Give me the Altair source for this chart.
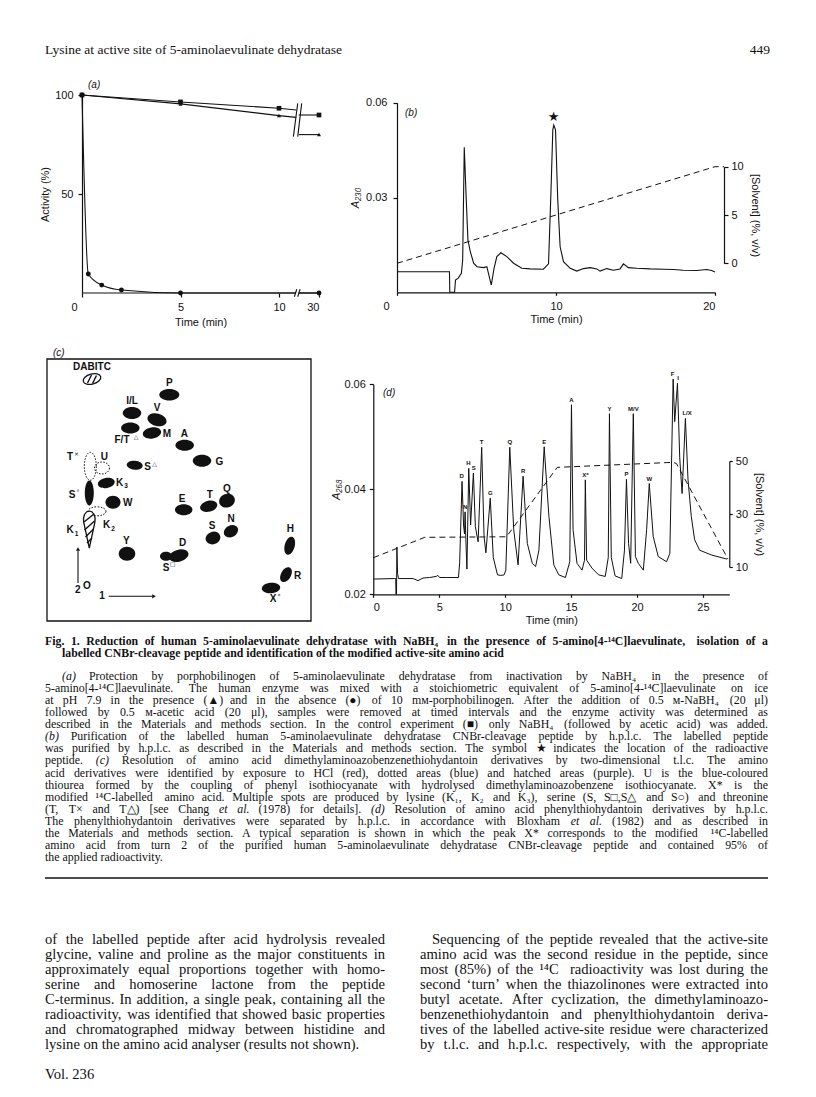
import altair as alt
import pandas as pd

SANS = "Liberation Sans"
SERIF = "Liberation Serif"
INK = "#111111"

# ---------------------------------------------------------------- panel (a)
A_T30 = 12.03            # axis position of the 30-min tick (after the axis break)
A_BREAK = (10.87, 11.0)  # axis positions either side of the break
ctrl_t = [0, 5, 10]
ctrl_act = [100, 96.5, 93.3]
ctrl_at_break = 92.4
ctrl_30 = 89.9
prot_t = [0, 5, 10]
prot_act = [100, 95.5, 89.6]
prot_at_break = 88.7
prot_30 = 80.0
inact_t = [0, 0.32, 1, 2, 5]
inact_act = [100, 9.6, 4.0, 1.5, 0]
inact_at_break = 0
inact_30 = 0

# ---------------------------------------------------------------- panel (b)
b_t = [0, 3.30, 3.32, 3.62, 3.68, 3.85, 4.05, 4.13, 4.23, 4.34, 4.46, 4.61, 4.82, 5.03,
       5.45, 5.65, 5.93, 6.10, 6.28, 6.53, 6.91, 7.33, 7.85, 8.38, 9.21, 9.53, 9.68, 9.80,
       9.86, 9.97, 10.11, 10.26, 10.47, 10.89, 11.31, 11.73, 12.15, 12.57, 12.77, 13.19,
       13.61, 14.03, 14.24, 14.55, 15.08, 15.92, 16.75, 17.38, 18.01, 18.85, 19.48, 19.79, 20.0]
b_A = [0.0065, 0.0065, 0.0, 0.0, 0.0039, 0.0045, 0.0060, 0.0102, 0.0459, 0.0313, 0.0166,
       0.0129, 0.0092, 0.0081, 0.0078, 0.0081, 0.0023, 0.0075, 0.0113, 0.0125, 0.0113,
       0.0092, 0.0076, 0.0074, 0.0073, 0.0090, 0.0313, 0.0514, 0.0529, 0.0514, 0.0292,
       0.0144, 0.0097, 0.0076, 0.0067, 0.0075, 0.0078, 0.0074, 0.0067, 0.0075, 0.0070,
       0.0074, 0.0090, 0.0078, 0.0076, 0.0074, 0.0073, 0.0072, 0.0070, 0.0069, 0.0072,
       0.0069, 0.0064]
b_solv_t = [0, 20, 20.57]
b_solv = [0, 10, 10]
b_star_t = [9.84]
b_star_A = [0.0554]

# ---------------------------------------------------------------- panel (c)
spot_name = ["DABITC", "P", "I/L", "V", "F/T", "M", "A", "G", "S△", "T×", "U", "K3", "S°",
             "W", "K2", "K1", "E", "T", "Q", "N", "S", "Y", "D", "S□", "H", "R", "X*"]
spot_x = [45, 122.3, 85, 110, 83.3, 105, 137.7, 155, 87.7, 43.3, 55, 59.3, 42.3,
          66, 50, 42.3, 136.7, 161.7, 180, 184, 166, 80, 131.7, 119, 242.7, 239, 224]
spot_y = [20, 35.7, 54, 60.7, 69, 74, 86.3, 101.7, 106.3, 107.3, 109, 124, 134,
          143.3, 152.3, 170.7, 150.7, 147.3, 141.7, 172.3, 179, 194.7, 196.7, 197.3, 186.7, 215.7, 229]
spot_w = [18, 20, 18.5, 19.5, 18.5, 18.5, 18.5, 18.5, 16, 12, 15, 17, 9,
          15, 18, 12, 17.5, 17.5, 16, 15, 15, 16.5, 20, 12, 10, 10, 18.5]
spot_h = [10, 11.5, 12, 12.5, 11, 11, 11, 12, 9, 28, 12, 10, 25,
          13, 9, 37, 11, 11, 13.5, 11.5, 12.5, 14, 12, 9, 18.5, 16, 10.5]
spot_ang = [345, 0, 0, 15, 0, 350, 0, 0, 5, 0, 0, 350, 0,
            0, 0, 0, 0, 345, 340, 330, 340, 0, 345, 0, 15, 30, 355]
spot_kind = ["hatched", "solid", "solid", "solid", "solid", "solid", "solid", "solid", "solid",
             "dotted", "dotted", "solid", "solid", "solid", "dotted", "tear", "solid", "solid",
             "solid", "solid", "solid", "solid", "solid", "solid", "solid", "solid", "solid"]

c_lab = ["DABITC", "P", "I/L", "V", "F/T", "M", "A", "G", "S", "T", "U", "K", "S", "W", "K", "K",
         "E", "T", "Q", "N", "S", "Y", "D", "S", "H", "R", "X", "2", "O", "1"]
c_lab_x = [45, 122.3, 85, 110, 75, 120, 137.3, 172.3, 100.5, 23, 57.3, 72.5, 25, 80.7, 59.5, 23,
           135, 162.7, 180, 184, 165, 79.3, 135.7, 119, 243.3, 250.7, 226, 30.7, 40, 55]
c_lab_y = [8, 24, 42.3, 49, 81.3, 75, 75, 102.7, 108, 98.3, 98.3, 123.5, 136, 144, 166, 171.3,
           139.7, 135.7, 129.7, 160, 167.3, 181.7, 184, 208.5, 170, 217.3, 240, 230.7, 226.7, 237.3]
c_sup = ["△", "△", "×", "°", "□", "*"]
c_sup_x = [89, 107.5, 29.5, 31, 125.5, 232]
c_sup_y = [77.5, 104.5, 95, 132.5, 205, 236.5]
c_sub = ["3", "2", "1"]
c_sub_x = [79, 66, 29.5]
c_sub_y = [127, 169.5, 175]
hatch_x = [40.5, 45.5, 37, 37.5, 38.5, 40]
hatch_y = [24, 24.5, 163, 171, 178, 184]
hatch_x2 = [44.5, 49.5, 47, 47.5, 46.5, 45]
hatch_y2 = [16, 16.5, 155, 162, 170, 179]
arrow_x = [31, 61.7]
arrow_y = [224, 237.3]
arrow_x2 = [31, 105]
arrow_y2 = [192, 237.3]
arrow_head_x = [31, 107]
arrow_head_y = [190, 237.3]
arrow_head_shape = ["triangle-up", "triangle-right"]
plate_x = [0]
plate_x2 = [264]
plate_y = [0]
plate_y2 = [262]

# ---------------------------------------------------------------- panel (d)
d_t = [0.00, 1.63, 1.70, 1.72, 1.76, 1.79, 1.84, 1.91, 3.02, 3.39,
       3.77, 4.27, 4.77, 4.90, 5.03, 5.53, 6.46, 6.55, 6.73, 6.85,
       6.92, 6.96, 7.02, 7.10, 7.16, 7.24, 7.38, 7.59, 7.74, 7.95,
       8.22, 8.40, 8.54, 8.87, 9.10, 9.42, 9.67, 9.92, 10.05, 10.35,
       10.65, 10.98, 11.36, 11.68, 12.06, 12.31, 12.56, 12.96, 13.32, 13.69,
       14.07, 14.57, 14.90, 15.03, 15.15, 15.45, 15.83, 16.02, 16.08, 16.18,
       16.58, 17.09, 17.59, 17.82, 17.91, 18.05, 18.34, 18.84, 19.05, 19.20,
       19.36, 19.52, 19.72, 19.88, 20.10, 20.48, 20.73, 20.93, 21.23, 21.61,
       22.24, 22.49, 22.74, 22.86, 23.07, 23.24, 23.42, 23.67, 23.87, 24.12,
       24.37, 24.75, 25.63, 26.83]
d_A = [0.0229, 0.0230, 0.0230, 0.0200, 0.0200, 0.0290, 0.0240, 0.0230, 0.0230, 0.0226,
       0.0231, 0.0232, 0.0234, 0.0236, 0.0232, 0.0232, 0.0232, 0.0260, 0.0415, 0.0330,
       0.0315, 0.0357, 0.0304, 0.0248, 0.0330, 0.0440, 0.0332, 0.0431, 0.0329, 0.0300,
       0.0480, 0.0310, 0.0279, 0.0383, 0.0270, 0.0237, 0.0236, 0.0237, 0.0246, 0.0480,
       0.0323, 0.0256, 0.0425, 0.0297, 0.0259, 0.0253, 0.0284, 0.0481, 0.0348, 0.0256,
       0.0237, 0.0232, 0.0262, 0.0561, 0.0323, 0.0259, 0.0246, 0.0265, 0.0418, 0.0265,
       0.0250, 0.0237, 0.0234, 0.0270, 0.0544, 0.0270, 0.0235, 0.0230, 0.0284, 0.0419,
       0.0297, 0.0259, 0.0544, 0.0272, 0.0259, 0.0246, 0.0323, 0.0411, 0.0310, 0.0272,
       0.0262, 0.0278, 0.0610, 0.0529, 0.0602, 0.0460, 0.0392, 0.0535, 0.0418, 0.0348,
       0.0304, 0.0284, 0.0275, 0.0267]
d_solv_t = [0, 3.9, 10.1, 13.95, 22.75, 23.0, 26.9]
d_solv = [13.5, 21.2, 21.4, 47.6, 49.5, 49.0, 13.0]
d_peak = ["D", "N", "H", "S", "T", "G", "Q", "R", "E", "A", "X*", "Y", "P", "M/V", "W", "F", "I", "L/X"]
d_peak_t = [6.70, 6.96, 7.22, 7.62, 8.22, 8.87, 10.35, 11.36, 12.96, 15.03, 16.08, 17.91,
            19.20, 19.72, 20.93, 22.70, 23.12, 23.80]
d_peak_A = [0.0415, 0.0357, 0.0440, 0.0431, 0.0480, 0.0383, 0.0480, 0.0425, 0.0481, 0.0561,
            0.0418, 0.0544, 0.0419, 0.0544, 0.0411, 0.0610, 0.0602, 0.0535]

# ---------------------------------------------------------------- page text
running_head = "Lysine at active site of 5-aminolaevulinate dehydratase"
page_no = "449"
cap_bold = [
    "Fig. 1. Reduction of human 5-aminolaevulinate dehydratase with NaBH₄ in the presence of 5-amino[4-¹⁴C]laevulinate, isolation of a",
    "labelled CNBr-cleavage peptide and identification of the modified active-site amino acid",
]
cap_text = [
    "(a) Protection by porphobilinogen of 5-aminolaevulinate dehydratase from inactivation by NaBH₄ in the presence of",
    "5-amino[4-¹⁴C]laevulinate. The human enzyme was mixed with a stoichiometric equivalent of 5-amino[4-¹⁴C]laevulinate on ice",
    "at pH 7.9 in the presence (▲) and in the absence (●) of 10 mᴍ-porphobilinogen. After the addition of 0.5 ᴍ-NaBH₄ (20 μl)",
    "followed by 0.5 ᴍ-acetic acid (20 μl), samples were removed at timed intervals and the enzyme activity was determined as",
    "described in the Materials and methods section. In the control experiment (■) only NaBH₄ (followed by acetic acid) was added.",
    "(b) Purification of the labelled human 5-aminolaevulinate dehydratase CNBr-cleavage peptide by h.p.l.c. The labelled peptide",
    "was purified by h.p.l.c. as described in the Materials and methods section. The symbol ★ indicates the location of the radioactive",
    "peptide. (c) Resolution of amino acid dimethylaminoazobenzenethiohydantoin derivatives by two-dimensional t.l.c. The amino",
    "acid derivatives were identified by exposure to HCl (red), dotted areas (blue) and hatched areas (purple). U is the blue-coloured",
    "thiourea formed by the coupling of phenyl isothiocyanate with hydrolysed dimethylaminoazobenzene isothiocyanate. X* is the",
    "modified ¹⁴C-labelled amino acid. Multiple spots are produced by lysine (K₁, K₂ and K₃), serine (S, S□,S△ and S○) and threonine",
    "(T, T× and T△) [see Chang et al. (1978) for details]. (d) Resolution of amino acid phenylthiohydantoin derivatives by h.p.l.c.",
    "The phenylthiohydantoin derivatives were separated by h.p.l.c. in accordance with Bloxham et al. (1982) and as described in",
    "the Materials and methods section. A typical separation is shown in which the peak X* corresponds to the modified ¹⁴C-labelled",
    "amino acid from turn 2 of the purified human 5-aminolaevulinate dehydratase CNBr-cleavage peptide and contained 95% of",
    "the applied radioactivity.",
]
body_left = [
    "of the labelled peptide after acid hydrolysis revealed",
    "glycine, valine and proline as the major constituents in",
    "approximately equal proportions together with homo-",
    "serine and homoserine lactone from the peptide",
    "C-terminus. In addition, a single peak, containing all the",
    "radioactivity, was identified that showed basic properties",
    "and chromatographed midway between histidine and",
    "lysine on the amino acid analyser (results not shown).",
]
body_right = [
    "Sequencing of the peptide revealed that the active-site",
    "amino acid was the second residue in the peptide, since",
    "most (85%) of the ¹⁴C radioactivity was lost during the",
    "second ‘turn’ when the thiazolinones were extracted into",
    "butyl acetate. After cyclization, the dimethylaminoazo-",
    "benzenethiohydantoin and phenylthiohydantoin deriva-",
    "tives of the labelled active-site residue were characterized",
    "by t.l.c. and h.p.l.c. respectively, with the appropriate",
]
footer = "Vol. 236"
ITALIC_WORDS = {"(a)", "(b)", "(c)", "(d)", "et", "al."}

# ================================================================= page geometry (px inside the plot area)
W, H = 800, 1080
A_XR, A_YR = [74, 311], [285, 87]
B_XR, B_YR, B_SR = [389, 707], [284.3, 94.7], [255.3, 158.7]
C_XR, C_YR = [39, 303], [351, 613]
D_XR, D_YR, D_SR = [365.3, 721.3], [586.3, 376.3], [559, 453]


def one(**kw):
    return pd.DataFrame({k: [v] for k, v in kw.items()})


def ellipse_path(w, h):
    m = max(w, h)
    rx, ry, k = w / m, h / m, 0.5523
    f = lambda v: f"{v:.3f}"
    return (f"M {f(rx)} 0 C {f(rx)} {f(k*ry)} {f(k*rx)} {f(ry)} 0 {f(ry)} "
            f"C {f(-k*rx)} {f(ry)} {f(-rx)} {f(k*ry)} {f(-rx)} 0 "
            f"C {f(-rx)} {f(-k*ry)} {f(-k*rx)} {f(-ry)} 0 {f(-ry)} "
            f"C {f(k*rx)} {f(-ry)} {f(rx)} {f(-k*ry)} {f(rx)} 0 Z")


TEAR = "M 0 1 L -0.3 -0.4 C -0.36 -0.8 -0.18 -1 0 -1 C 0.18 -1 0.36 -0.8 0.3 -0.4 Z"


def tag(text, px, py):
    return alt.Chart(one(t=text)).mark_text(font=SANS, fontSize=10, fontStyle="italic", color=INK,
                                            align="left", baseline="middle").encode(
        x=alt.value(px), y=alt.value(py), text="t:N")


# ================================================================= (a)
rows = []
for name, ts, acts, brk, v30 in [("ctrl", ctrl_t, ctrl_act, ctrl_at_break, ctrl_30),
                                 ("prot", prot_t, prot_act, prot_at_break, prot_30),
                                 ("inact", inact_t, inact_act, inact_at_break, inact_30)]:
    for t, v in zip(ts, acts):
        rows.append(dict(series=name, seg=name + "1", x=t, y=v, mk=1))
    rows.append(dict(series=name, seg=name + "1", x=A_BREAK[0], y=brk, mk=0))
    rows.append(dict(series=name, seg=name + "2", x=A_BREAK[1], y=v30, mk=0))
    rows.append(dict(series=name, seg=name + "2", x=A_T30, y=v30, mk=1))
df_a = pd.DataFrame(rows)

xa = alt.X("x:Q", scale=alt.Scale(domain=[0, A_T30], range=A_XR, nice=False, zero=False),
           axis=alt.Axis(orient="bottom", offset=A_YR[0] - H, values=[0, 5, 10, A_T30], domain=False,
                         tickSize=4, labelPadding=4,
                         labelExpr="datum.value > 11 ? '30' : datum.label",
                         labelOffset={"condition": {"test": "datum.value == 0", "value": -11}, "value": 0},
                         title="Time (min)", titlePadding=4))
ya = alt.Y("y:Q", scale=alt.Scale(domain=[0, 100], range=A_YR, nice=False),
           axis=alt.Axis(orient="left", offset=-A_XR[0], values=[50, 100], tickSize=4, labelPadding=5,
                         title="Activity (%)", titlePadding=4))

a_layers = []
for name, interp in [("ctrl", "linear"), ("prot", "linear"), ("inact", "monotone")]:
    a_layers.append(alt.Chart(df_a).transform_filter(f"datum.series == '{name}'")
                    .mark_line(color=INK, strokeWidth=1.1, interpolate=interp)
                    .encode(x=xa, y=ya, detail="seg:N"))
for name, shape, size in [("ctrl", "square", 22), ("prot", "triangle-up", 16), ("inact", "circle", 24)]:
    a_layers.append(alt.Chart(df_a).transform_filter(f"datum.series == '{name}' && datum.mk == 1")
                    .mark_point(filled=True, color=INK, shape=shape, size=size, opacity=1)
                    .encode(x=xa, y=ya))
a_break = pd.DataFrame({"x": [10.73, 10.95, 10.78, 10.95, 0, 11.0],
                        "y": [79, 79, -1.9, -1.9, 0, 0],
                        "x2": [10.95, 11.15, 10.90, 11.07, 10.84, A_T30],
                        "y2": [95.8, 95.8, 1.9, 1.9, 0, 0]})
a_layers.append(alt.Chart(a_break).mark_rule(color=INK, strokeWidth=1.1).encode(
    x=xa, y=ya, x2="x2:Q", y2="y2:Q"))
panel_a = alt.layer(*a_layers)

# ================================================================= (b)
df_b = pd.DataFrame({"t": b_t, "A": b_A})
xb = alt.X("t:Q", scale=alt.Scale(domain=[0, 20], range=B_XR, nice=False),
           axis=alt.Axis(orient="bottom", offset=B_YR[0] - H, values=[0, 10, 20], tickSize=3, labelPadding=5,
                         labelOffset={"condition": {"test": "datum.value == 0", "value": -14}, "value": 0},
                         title="Time (min)", titlePadding=2))
yb = alt.Y("A:Q", scale=alt.Scale(domain=[0, 0.06], range=B_YR, nice=False),
           axis=alt.Axis(orient="left", offset=-B_XR[0], values=[0.03, 0.06], format=".2f", tickSize=4,
                         labelPadding=6, title="A₂₃₀", titleFontStyle="italic", titlePadding=5))
ysb = alt.Y("s:Q", scale=alt.Scale(domain=[0, 10], range=B_SR, nice=False),
            axis=alt.Axis(orient="right", offset=716 - W, values=[0, 5, 10], tickSize=4, labelPadding=3,
                          title="[Solvent] (%, v/v)", titlePadding=6))
b_trace = alt.Chart(df_b).mark_line(color=INK, strokeWidth=1.1).encode(x=xb, y=yb)
b_star = alt.Chart(pd.DataFrame({"t": b_star_t, "A": b_star_A, "s": ["★"]})).mark_text(
    font="DejaVu Sans", fontSize=13, color=INK).encode(x=xb, y=yb, text="s:N")
b_solvent = alt.Chart(pd.DataFrame({"t": b_solv_t, "s": b_solv})).mark_line(
    color=INK, strokeWidth=1, strokeDash=[6, 4]).encode(x=xb, y=ysb)
panel_b = alt.layer(alt.layer(b_trace, b_star), b_solvent).resolve_scale(y="independent")

# ================================================================= (c)
df_c = pd.DataFrame({"name": spot_name, "x": spot_x, "y": spot_y, "w": spot_w, "h": spot_h,
                     "ang": spot_ang, "kind": spot_kind})
df_c["path"] = [TEAR if k == "tear" else ellipse_path(w, h) for k, w, h in zip(df_c.kind, df_c.w, df_c.h)]
df_c["sz"] = [max(w, h) ** 2 for w, h in zip(df_c.w, df_c.h)]
xc = alt.X("x:Q", scale=alt.Scale(domain=[0, 264], range=C_XR, nice=False), axis=None)
yc = alt.Y("y:Q", scale=alt.Scale(domain=[0, 262], range=C_YR, nice=False), axis=None)
spot_enc = dict(x=xc, y=yc, shape=alt.Shape("path:N", scale=None), size=alt.Size("sz:Q", scale=None),
                angle=alt.Angle("ang:Q", scale=None))
c_plate = alt.Chart(pd.DataFrame({"x": plate_x, "x2": plate_x2, "y": plate_y, "y2": plate_y2})).mark_rect(
    filled=False, color=INK, strokeWidth=1.3).encode(x=xc, y=yc, x2="x2:Q", y2="y2:Q")
c_solid = alt.Chart(df_c).transform_filter("datum.kind == 'solid'").mark_point(
    filled=True, color=INK, opacity=1, strokeWidth=0).encode(**spot_enc)
c_dotted = alt.Chart(df_c).transform_filter("datum.kind == 'dotted'").mark_point(
    filled=False, color=INK, opacity=1, strokeWidth=1, strokeDash=[1.5, 1.5]).encode(**spot_enc)
c_hatched = alt.Chart(df_c).transform_filter("datum.kind == 'hatched' || datum.kind == 'tear'").mark_point(
    filled=True, fill="white", stroke=INK, opacity=1, strokeWidth=1.3).encode(**spot_enc)
c_hatch = alt.Chart(pd.DataFrame({"x": hatch_x, "y": hatch_y, "x2": hatch_x2, "y2": hatch_y2})).mark_rule(
    color=INK, strokeWidth=1.4).encode(x=xc, y=yc, x2="x2:Q", y2="y2:Q")
c_arrows = alt.Chart(pd.DataFrame({"x": arrow_x, "y": arrow_y, "x2": arrow_x2, "y2": arrow_y2})).mark_rule(
    color=INK, strokeWidth=1.1).encode(x=xc, y=yc, x2="x2:Q", y2="y2:Q")
c_heads = alt.Chart(pd.DataFrame({"x": arrow_head_x, "y": arrow_head_y, "shape": arrow_head_shape})).mark_point(
    filled=True, color=INK, opacity=1, size=18).encode(x=xc, y=yc, shape=alt.Shape("shape:N", scale=None))
c_labels = alt.Chart(pd.DataFrame({"x": c_lab_x, "y": c_lab_y, "t": c_lab})).mark_text(
    font=SANS, fontSize=10, fontWeight="bold", color=INK).encode(x=xc, y=yc, text="t:N")
c_sups = alt.Chart(pd.DataFrame({"x": c_sup_x, "y": c_sup_y, "t": c_sup})).mark_text(
    font="DejaVu Sans", fontSize=6, color=INK).encode(x=xc, y=yc, text="t:N")
c_subs = alt.Chart(pd.DataFrame({"x": c_sub_x, "y": c_sub_y, "t": c_sub})).mark_text(
    font=SANS, fontSize=6.5, fontWeight="bold", color=INK).encode(x=xc, y=yc, text="t:N")
panel_c = alt.layer(c_plate, c_solid, c_dotted, c_hatched, c_hatch, c_arrows, c_heads, c_labels, c_sups, c_subs)

# ================================================================= (d)
df_d = pd.DataFrame({"t": d_t, "A": d_A})
xd = alt.X("t:Q", scale=alt.Scale(domain=[0, 27], range=D_XR, nice=False),
           axis=alt.Axis(orient="bottom", offset=D_YR[0] - H, values=[0, 5, 10, 15, 20, 25], tickSize=3,
                         labelPadding=4, title="Time (min)", titlePadding=2))
yd = alt.Y("A:Q", scale=alt.Scale(domain=[0.02, 0.06], range=D_YR, nice=False, zero=False),
           axis=alt.Axis(orient="left", offset=-D_XR[0], values=[0.02, 0.04, 0.06], format=".2f", tickSize=4,
                         labelPadding=4, title="A₂₆₈", titleFontStyle="italic", titlePadding=2))
ysd = alt.Y("s:Q", scale=alt.Scale(domain=[10, 50], range=D_SR, nice=False, zero=False),
            axis=alt.Axis(orient="right", offset=D_XR[1] - W, values=[10, 30, 50], tickSize=3, labelPadding=3,
                          title="[Solvent] (%, v/v)", titlePadding=6))
d_trace = alt.Chart(df_d).mark_line(color=INK, strokeWidth=1).encode(x=xd, y=yd)
d_labels = alt.Chart(pd.DataFrame({"t": d_peak_t, "A": d_peak_A, "p": d_peak})).mark_text(
    font=SANS, fontSize=6, fontWeight="bold", color=INK, dy=-5).encode(x=xd, y=yd, text="p:N")
d_solvent = alt.Chart(pd.DataFrame({"t": d_solv_t, "s": d_solv})).mark_line(
    color=INK, strokeWidth=1, strokeDash=[6, 4]).encode(x=xd, y=ysd)
panel_d = alt.layer(alt.layer(d_trace, d_labels), d_solvent).resolve_scale(y="independent")

# ================================================================= justified text
_R = dict(zip("abcdefghijklmnopqrstuvwxyz",
              [444, 500, 444, 500, 444, 333, 500, 500, 278, 278, 500, 278, 778, 500, 500, 500, 500, 333,
               389, 278, 500, 500, 722, 500, 500, 444]))
_R.update(zip("ABCDEFGHIJKLMNOPQRSTUVWXYZ",
              [722, 667, 667, 722, 611, 556, 722, 722, 333, 389, 722, 611, 889, 722, 722, 556, 722, 667,
               556, 611, 722, 722, 944, 722, 722, 611]))
_R.update({" ": 250, ".": 250, ",": 250, ":": 278, ";": 278, "-": 333, "(": 333, ")": 333, "[": 333,
           "]": 333, "%": 833, "'": 333, "‘": 333, "’": 333, "/": 278, "*": 500, "×": 564, "μ": 500})
_B = dict(zip("abcdefghijklmnopqrstuvwxyz",
              [500, 556, 444, 556, 444, 333, 500, 556, 278, 333, 556, 278, 833, 556, 500, 556, 556, 444,
               389, 333, 556, 500, 722, 500, 500, 444]))
_B.update(zip("ABCDEFGHIJKLMNOPQRSTUVWXYZ",
              [722, 667, 722, 722, 667, 611, 778, 778, 389, 500, 778, 667, 944, 722, 778, 611, 778, 722,
               556, 667, 722, 722, 1000, 722, 722, 667]))
_B.update({" ": 250, ".": 250, ",": 250, ":": 333, ";": 333, "-": 333, "(": 333, ")": 333, "[": 333,
           "]": 333, "%": 1000})


def cw(ch, table):
    if ch in table:
        return table[ch]
    if ch.isdigit():
        return 500
    if ch in "▲●■★△□○":
        return 780
    if ch in "₀₁₂₃₄₅₆₇₈₉⁰¹²³⁴⁵⁶⁷⁸⁹":
        return 330
    if ch == "ᴍ":
        return 620
    return 500


def units(s, table):
    return sum(cw(c, table) for c in s)


def justify(lines, xl, xr, y0, step, size, table, indents, flags, weight="normal"):
    out = []
    for i, line in enumerate(lines):
        words = line.split(" ")
        x0 = xl + indents[i]
        ws = [units(w, table) * size / 1000 for w in words]
        y = y0 + i * step
        just = flags[i] and len(words) > 1
        gap = (xr - x0 - sum(ws)) / (len(words) - 1) if just else 250 * size / 1000
        x = x0
        for j, (w, wd) in enumerate(zip(words, ws)):
            last = just and j == len(words) - 1
            out.append(dict(w=w, px=xr if last else x, py=y, al="right" if last else "left",
                            st="italic" if w in ITALIC_WORDS else "normal", wt=weight, fs=size))
            x += wd + gap
    return out


words = []
words += justify(cap_bold, 37, 760, 633, 12, 11.8, _B, [0, 17], [True, False], weight="bold")
words += justify(cap_text, 37, 760, 668, 12.07, 11.9, _R, [17] + [0] * 15, [True] * 15 + [False])
words += justify(body_left, 37, 377, 932, 15, 14.6, _R, [0] * 8, [True] * 7 + [False])
words += justify(body_right, 412, 760, 932, 15, 14.6, _R, [12] + [0] * 7, [True] * 8)
df_words = pd.DataFrame(words)

PX = alt.X("px:Q", scale=None, axis=None)
PY = alt.Y("py:Q", scale=None, axis=None)
text_layers = []
for (al, st, wt, fs), _g in df_words.groupby(["al", "st", "wt", "fs"]):
    text_layers.append(
        alt.Chart(df_words).transform_filter(
            f"datum.al == '{al}' && datum.st == '{st}' && datum.wt == '{wt}' && datum.fs == {fs}")
        .mark_text(align=al, baseline="middle", font=SERIF, fontSize=float(fs), fontStyle=st, fontWeight=wt,
                   color=INK)
        .encode(x=PX, y=PY, text="w:N"))

furniture = [
    alt.Chart(one(t=running_head)).mark_text(align="left", baseline="middle", font=SERIF, fontSize=13.5,
                                             color=INK).encode(x=alt.value(37), y=alt.value(42), text="t:N"),
    alt.Chart(one(t=page_no)).mark_text(align="right", baseline="middle", font=SERIF, fontSize=13.5,
                                        color=INK).encode(x=alt.value(762), y=alt.value(42), text="t:N"),
    alt.Chart(one(t=footer)).mark_text(align="left", baseline="middle", font=SERIF, fontSize=14.6,
                                       color=INK).encode(x=alt.value(37), y=alt.value(1067), text="t:N"),
    alt.Chart(one(v=0)).mark_rule(color=INK, strokeWidth=1.6).encode(
        x=alt.value(37), x2=alt.value(760), y=alt.value(870)),
    tag("(a)", 80, 77), tag("(b)", 397, 105), tag("(c)", 45, 345), tag("(d)", 375, 385),
]

chart = (alt.layer(panel_a, panel_b, panel_c, panel_d, *text_layers, *furniture)
         .resolve_scale(x="independent", y="independent")
         .properties(width=W, height=H, padding=0)
         .configure(background="white")
         .configure_view(strokeWidth=0)
         .configure_axis(labelFont=SANS, titleFont=SANS, labelFontSize=11, titleFontSize=11,
                         titleFontWeight="normal", labelColor=INK, titleColor=INK,
                         domainColor=INK, tickColor=INK, domainWidth=1.2, tickWidth=1.2, grid=False))

chart.save("out.html", embed_options={"renderer": "svg", "actions": False})
